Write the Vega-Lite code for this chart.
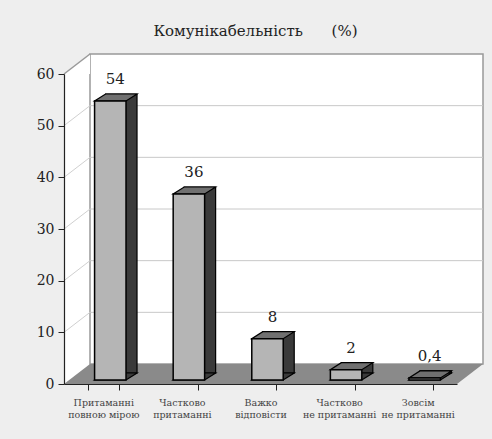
{
  "$schema": "https://vega.github.io/schema/vega-lite/v6.json",
  "width": 393,
  "height": 310,
  "autosize": {"type": "none"},
  "padding": {"left": 64, "top": 74, "right": 35, "bottom": 55},
  "background": "#eeeeee",
  "config": {
    "view": {"fill": "white", "stroke": null},
    "font": "DejaVu Serif",
    "locale": {"number": {"decimal": ",", "thousands": " ", "grouping": [3], "currency": ["", " грн"]}}
  },
  "title": {
    "text": "Комунікабельність\u00a0\u00a0\u00a0\u00a0\u00a0\u00a0(%)",
    "fontSize": 15,
    "fontWeight": "normal",
    "color": "#222222",
    "offset": 14,
    "dx": -5
  },
  "datasets": {
    "bars": [
      {"cat": "Притаманні|повною мірою", "value": 54},
      {"cat": "Частково|притаманні", "value": 36},
      {"cat": "Важко|відповісти", "value": 8},
      {"cat": "Частково|не притаманні", "value": 2},
      {"cat": "Зовсім|не притаманні", "value": 0.4}
    ],
    "grid": [{"v": 10}, {"v": 20}, {"v": 30}, {"v": 40}, {"v": 50}],
    "one": [{"part": "wall"}]
  },
  "resolve": {"scale": {"x": "independent"}},
  "layer": [
    {
      "data": {"name": "one"},
      "mark": {"type": "rect", "fill": "white", "stroke": "#999999", "strokeWidth": 1.5, "xOffset": 26, "x2Offset": 26, "yOffset": -20, "y2Offset": -20},
      "encoding": {
        "x": {"datum": 0, "type": "quantitative", "scale": {"domain": [0, 5]}, "axis": null},
        "x2": {"datum": 5},
        "y": {"datum": 0, "type": "quantitative"},
        "y2": {"datum": 60}
      }
    },
    {
      "data": {"name": "grid"},
      "mark": {"type": "rule", "color": "#c8c8c8", "strokeWidth": 1, "xOffset": 26, "x2Offset": 26, "yOffset": -20},
      "encoding": {
        "x": {"datum": 0, "type": "quantitative", "scale": {"domain": [0, 5]}, "axis": null},
        "x2": {"datum": 5},
        "y": {"field": "v", "type": "quantitative"}
      }
    },
    {
      "data": {"name": "grid"},
      "mark": {"type": "rule", "color": "#d0d0d0", "strokeWidth": 1, "x2Offset": 26, "y2Offset": -20},
      "encoding": {
        "x": {"datum": 0, "type": "quantitative", "scale": {"domain": [0, 5]}, "axis": null},
        "x2": {"datum": 0},
        "y": {"field": "v", "type": "quantitative"},
        "y2": {"field": "v"}
      }
    },
    {
      "data": {"name": "one"},
      "mark": {"type": "point", "shape": "M-1,0.769L1,-0.769L1,0.769Z", "size": 676, "filled": true, "fill": "white", "opacity": 1, "strokeWidth": 0, "xOffset": 13, "yOffset": -10},
      "encoding": {
        "x": {"datum": 0, "type": "quantitative", "scale": {"domain": [0, 5]}, "axis": null},
        "y": {"datum": 60, "type": "quantitative"}
      }
    },
    {
      "data": {"name": "one"},
      "mark": {"type": "rule", "color": "#999999", "strokeWidth": 1.5, "x2Offset": 26, "y2Offset": -20},
      "encoding": {
        "x": {"datum": 0, "type": "quantitative", "scale": {"domain": [0, 5]}, "axis": null},
        "x2": {"datum": 0},
        "y": {"datum": 60, "type": "quantitative"},
        "y2": {"datum": 60}
      }
    },
    {
      "data": {"name": "one"},
      "mark": {"type": "point", "shape": "M-1,0.0477L0.8759,0.0477L1,-0.0477L-0.8759,-0.0477Z", "size": 175561, "filled": true, "fill": "#8a8a8a", "opacity": 1, "strokeWidth": 0, "xOffset": 13, "yOffset": -10},
      "encoding": {
        "x": {"datum": 2.5, "type": "quantitative", "scale": {"domain": [0, 5]}, "axis": null},
        "y": {"datum": 0, "type": "quantitative"}
      }
    },
    {
      "data": {"name": "bars"},
      "layer": [
        {
          "mark": {"type": "bar", "fill": "#3a3a3a", "stroke": "black", "strokeWidth": 1.2, "xOffset": 18, "x2Offset": 18, "yOffset": -11, "y2Offset": -11},
          "encoding": {
            "y": {"field": "value", "type": "quantitative"}
          }
        },
        {
          "mark": {"type": "point", "shape": "M-1,0.165L0.4816,0.165L1,-0.165L-0.4816,-0.165Z", "size": 1801, "filled": true, "fill": "#3a3a3a", "opacity": 1, "stroke": "black", "strokeWidth": 1.2, "xOffset": 12.5, "yOffset": -7.5},
          "encoding": {
            "y": {"datum": 0, "type": "quantitative"}
          }
        },
        {
          "mark": {"type": "point", "shape": "M-1,0.165L0.4816,0.165L1,-0.165L-0.4816,-0.165Z", "size": 1801, "filled": true, "fill": "#707070", "opacity": 1, "stroke": "black", "strokeWidth": 1.2, "xOffset": 12.5, "yOffset": -7.5},
          "encoding": {
            "y": {"field": "value", "type": "quantitative"}
          }
        },
        {
          "mark": {"type": "bar", "fill": "#b5b5b5", "stroke": "black", "strokeWidth": 1.5, "xOffset": 7, "x2Offset": 7, "yOffset": -4, "y2Offset": -4},
          "encoding": {
            "y": {"field": "value", "type": "quantitative"}
          }
        },
        {
          "mark": {"type": "text", "fontSize": 15, "color": "#222222", "baseline": "alphabetic", "xOffset": 12, "yOffset": -21},
          "encoding": {
            "y": {"field": "value", "type": "quantitative"},
            "text": {"field": "value", "type": "quantitative", "format": ".2~f"}
          }
        }
      ],
      "encoding": {
        "x": {
          "field": "cat",
          "type": "nominal",
          "sort": null,
          "scale": {"paddingInner": 0.6, "paddingOuter": 0.3},
          "axis": {
            "title": null,
            "labelAngle": 0,
            "labelExpr": "split(datum.label, '|')",
            "labelFontSize": 9.5,
            "labelColor": "#444444",
            "labelLineHeight": 12,
            "labelPadding": 7,
            "tickBand": "extent",
            "tickSize": 6,
            "tickColor": "#222222",
            "domainColor": "#222222",
            "domainWidth": 1.2,
            "zindex": 1
          }
        }
      }
    }
  ],
  "encoding": {
    "y": {
      "type": "quantitative",
      "scale": {"domain": [0, 60], "nice": false, "zero": true},
      "axis": {
        "title": null,
        "values": [0, 10, 20, 30, 40, 50, 60],
        "grid": false,
        "tickSize": 6,
        "tickColor": "#222222",
        "domainColor": "#222222",
        "domainWidth": 1.2,
        "labelFontSize": 14,
        "labelColor": "#222222",
        "labelPadding": 4,
        "zindex": 1
      }
    }
  }
}
